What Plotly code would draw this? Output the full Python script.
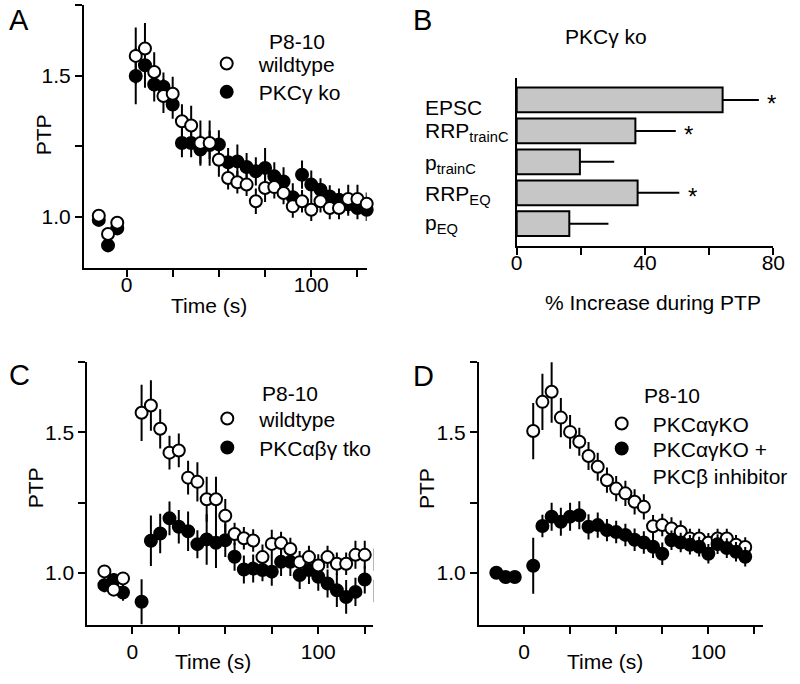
import plotly.graph_objects as go

W, H = 800, 684
FONT = "Liberation Sans, Arial, sans-serif"

# ---------------- data ----------------
# Panel A / C shared wildtype (open circles)
time_wt = [-15, -10, -5, 5, 10, 15, 20, 25, 30, 35, 40, 45, 50, 55, 60, 65, 70, 75,
           80, 85, 90, 95, 100, 105, 110, 115, 120, 125, 130]
ptp_wt = [1.005, 0.94, 0.98, 1.57, 1.596, 1.513, 1.428, 1.436, 1.339, 1.324, 1.262,
          1.262, 1.203, 1.138, 1.123, 1.115, 1.056, 1.103, 1.106, 1.085, 1.038, 1.056,
          1.026, 1.056, 1.032, 1.032, 1.064, 1.064, 1.047]
err_wt = [0.012, 0.012, 0.012, 0.10, 0.09, 0.07, 0.06, 0.06, 0.06, 0.07, 0.08, 0.08,
          0.06, 0.04, 0.04, 0.04, 0.045, 0.05, 0.04, 0.04, 0.04, 0.04, 0.04, 0.04,
          0.04, 0.04, 0.05, 0.05, 0.04]

# Panel A: PKCgamma ko (filled)
time_ko = time_wt
ptp_ko = [0.99, 0.90, 0.96, 1.499, 1.537, 1.469, 1.461, 1.398, 1.262, 1.262, 1.239,
          1.255, 1.257, 1.194, 1.197, 1.177, 1.162, 1.174, 1.144, 1.126, 1.07, 1.150,
          1.115, 1.097, 1.073, 1.061, 1.045, 1.032, 1.026]
err_ko = [0.012, 0.012, 0.012, 0.10, 0.08, 0.06, 0.05, 0.05, 0.05, 0.05, 0.05, 0.05,
          0.05, 0.05, 0.06, 0.05, 0.05, 0.07, 0.05, 0.05, 0.05, 0.05, 0.05, 0.04,
          0.04, 0.04, 0.04, 0.04, 0.04]

# Panel C: PKCalphabetagamma tko (filled)
time_tko = time_wt
ptp_tko = [0.956, 0.974, 0.93, 0.897, 1.114, 1.140, 1.194, 1.164, 1.148, 1.102, 1.119,
           1.107, 1.116, 1.057, 1.012, 1.015, 1.01, 1.004, 1.039, 1.039, 0.992, 1.01,
           0.986, 0.962, 0.938, 0.914, 0.932, 0.976, 0.935]
err_tko = [0.025, 0.025, 0.03, 0.08, 0.09, 0.07, 0.06, 0.06, 0.07, 0.05, 0.09, 0.09,
           0.06, 0.05, 0.05, 0.05, 0.04, 0.05, 0.05, 0.05, 0.05, 0.05, 0.05, 0.05,
           0.06, 0.06, 0.05, 0.05, 0.04]

# Panel D: PKCalphagamma KO (open)
time_ag = [5, 10, 15, 20, 25, 30, 35, 40, 45, 50, 55, 60, 65, 70, 75, 80, 85, 90, 95,
           100, 105, 110, 115, 120]
ptp_ag = [1.505, 1.609, 1.645, 1.553, 1.502, 1.467, 1.416, 1.378, 1.330, 1.300, 1.283,
          1.253, 1.235, 1.166, 1.170, 1.158, 1.146, 1.122, 1.122, 1.107, 1.122, 1.122,
          1.10, 1.092]
err_ag = [0.10, 0.10, 0.11, 0.07, 0.06, 0.05, 0.05, 0.05, 0.045, 0.045, 0.045, 0.045,
          0.045, 0.04, 0.04, 0.04, 0.04, 0.035, 0.035, 0.035, 0.035, 0.035, 0.035, 0.035]

# Panel D: PKCalphagamma KO + PKCbeta inhibitor (filled)
time_agi = [-15, -10, -5, 5, 10, 15, 20, 25, 30, 35, 40, 45, 50, 55, 60, 65, 70, 75, 80,
            85, 90, 95, 100, 105, 110, 115, 120]
ptp_agi = [1.0, 0.985, 0.985, 1.025, 1.167, 1.2, 1.182, 1.2, 1.205, 1.164, 1.17, 1.152,
           1.145, 1.135, 1.118, 1.108, 1.093, 1.068, 1.116, 1.108, 1.1, 1.093, 1.068,
           1.102, 1.088, 1.075, 1.057]
err_agi = [0.015, 0.015, 0.015, 0.10, 0.04, 0.05, 0.05, 0.05, 0.05, 0.045, 0.045, 0.04,
           0.04, 0.04, 0.04, 0.04, 0.04, 0.04, 0.035, 0.035, 0.035, 0.035, 0.035, 0.035,
           0.035, 0.035, 0.035]

# Panel B: % increase during PTP (PKCgamma ko)
b_labels = ["EPSC", "RRP<sub>trainC</sub>", "p<sub>trainC</sub>", "RRP<sub>EQ</sub>", "p<sub>EQ</sub>"]
b_values = [64.2, 37.0, 19.7, 37.7, 16.4]
b_errors = [11.3, 12.6, 10.7, 13.0, 12.2]
b_signif = [True, True, False, True, False]

x_tickvals = [0, 25, 50, 75, 100, 125]
x_ticktext = ["0", " ", " ", " ", "100", " "]
y_tickvals = [1.0, 1.25, 1.5, 1.75]
y_ticktext = ["1.0", " ", "1.5", " "]


def px(x):
    return x / W


def py(y):
    return 1 - y / H


fig = go.Figure()

OPEN = dict(size=12, color="white", line=dict(color="black", width=2))
FILLED = dict(size=12, color="black", line=dict(color="black", width=2))


def series(x, y, err, xa, ya, marker):
    fig.add_trace(go.Scatter(
        x=x, y=y, mode="markers", xaxis=xa, yaxis=ya, cliponaxis=False,
        showlegend=False, marker=marker, hoverinfo="skip",
        error_y=dict(type="data", array=err, visible=True, thickness=2, width=0,
                     color="black")))


def legend_entry(name, xa, ya, marker, legend):
    fig.add_trace(go.Scatter(x=[None], y=[None], mode="markers", xaxis=xa, yaxis=ya,
                             marker=marker, name=name, legend=legend, showlegend=True))


# Panel A (open on top)
series(time_ko, ptp_ko, err_ko, "x", "y", FILLED)
series(time_wt, ptp_wt, err_wt, "x", "y", OPEN)
legend_entry("wildtype", "x", "y", OPEN, "legend")
legend_entry("PKCγ ko", "x", "y", FILLED, "legend2")

# Panel B
fig.add_trace(go.Bar(
    x=b_values, y=b_labels, orientation="h", xaxis="x2", yaxis="y2", width=0.8,
    marker=dict(color="#c6c6c6", line=dict(color="black", width=2)),
    showlegend=False, hoverinfo="skip",
    error_x=dict(type="data", array=b_errors, arrayminus=[0] * len(b_errors),
                 symmetric=False, visible=True, thickness=2, width=0, color="black")))

# Panel C (open on top)
series(time_tko, ptp_tko, err_tko, "x3", "y3", FILLED)
series(time_wt, ptp_wt, err_wt, "x3", "y3", OPEN)
legend_entry("wildtype", "x3", "y3", OPEN, "legend3")
legend_entry("PKCαβγ tko", "x3", "y3", FILLED, "legend4")

# Panel D (filled on top)
series(time_ag, ptp_ag, err_ag, "x4", "y4", OPEN)
series(time_agi, ptp_agi, err_agi, "x4", "y4", FILLED)
legend_entry("PKCαγKO", "x4", "y4", OPEN, "legend5")
legend_entry("PKCαγKO +<br>PKCβ inhibitor", "x4", "y4", FILLED, "legend6")

AX = dict(showline=True, linecolor="black", linewidth=2, ticks="outside", ticklen=7,
          tickwidth=2, tickcolor="black", showgrid=False, zeroline=False,
          automargin=False,
          tickfont=dict(size=21, color="black", family=FONT), fixedrange=True)

def xax(dom, rng, anchor, standoff=0):
    return dict(AX, domain=dom, range=rng, anchor=anchor, tickmode="array",
                tickvals=x_tickvals, ticktext=x_ticktext, ticklabelstandoff=standoff)

def yax(dom, rng, anchor):
    return dict(AX, domain=dom, range=rng, anchor=anchor, tickmode="array",
                tickvals=y_tickvals, ticktext=y_ticktext)

dA_x = [px(84), px(366.7)]
dA_y = [py(268), py(5)]
dB_x = [px(516.7), px(773.3)]
dB_y = [py(246), py(77.7)]
dC_x = [px(87.3), px(373.3)]
dC_y = [py(625), py(362.3)]
dD_x = [px(479), px(763.3)]
dD_y = [py(625), py(362.3)]

LEG = dict(font=dict(size=21, family=FONT, color="black"), bgcolor="rgba(0,0,0,0)",
           itemwidth=54, xanchor="left", yanchor="top", tracegroupgap=0,
           itemclick=False, itemdoubleclick=False, valign="top")
OFF = 20  # legend top -> first symbol centre (px)

fig.update_layout(
    width=W, height=H, margin=dict(l=0, r=0, t=0, b=0, autoexpand=False),
    paper_bgcolor="white", plot_bgcolor="white",
    font=dict(family=FONT, size=21, color="black"),
    showlegend=True,
    xaxis=xax(dA_x, [-23, 130], "y", standoff=-10),
    yaxis=yax(dA_y, [0.82, 1.75], "x"),
    xaxis2=dict(AX, domain=dB_x, range=[0, 80], anchor="y2", tickmode="array",
                tickvals=[0, 20, 40, 60, 80], ticktext=["0", " ", "40", " ", "80"],
                ticklabelstandoff=-10),
    yaxis2=dict(AX, domain=dB_y, range=[4.72, -0.72], anchor="x2", ticks="",
                showticklabels=False, type="category"),
    xaxis3=xax(dC_x, [-24.2, 129.6], "y3"),
    yaxis3=yax(dC_y, [0.814, 1.75], "x3"),
    xaxis4=xax(dD_x, [-24.4, 129.8], "y4"),
    yaxis4=yax(dD_y, [0.814, 1.75], "x4"),
    legend=dict(LEG, x=px(194.7), y=py(63.3 - OFF)),
    legend2=dict(LEG, x=px(194.7), y=py(91.7 - OFF)),
    legend3=dict(LEG, x=px(195.3), y=py(418.3 - OFF)),
    legend4=dict(LEG, x=px(195.3), y=py(447.3 - OFF)),
    legend5=dict(LEG, itemwidth=52, x=px(590.7), y=py(423.3 - OFF)),
    legend6=dict(LEG, itemwidth=52, x=px(590.7), y=py(448.3 - OFF)),
)


def ann(text, x, y, size=21, xanchor="center", yanchor="middle", **kw):
    return dict(text=text, x=px(x), y=py(y), xref="paper", yref="paper",
                showarrow=False, xanchor=xanchor, yanchor=yanchor,
                font=dict(size=size, family=FONT, color="black"), **kw)


annotations = [
    # panel letters
    ann("A", 19, 20, size=29), ann("B", 422.5, 20, size=29),
    ann("C", 19, 375, size=29), ann("D", 423, 376, size=29),
    # axis titles
    ann("PTP", 43.3, 135, textangle=-90), ann("PTP", 35, 488.3, textangle=-90),
    ann("PTP", 426.7, 488.3, textangle=-90),
    ann("Time (s)", 209, 305), ann("Time (s)", 213.3, 661.7), ann("Time (s)", 605, 661.7),
    ann("% Increase during PTP", 653, 303),
    ann("PKCγ ko", 605.8, 36.7),
    # legend headers
    ann("P8-10", 296.7, 41.7), ann("P8-10", 289.5, 393.3), ann("P8-10", 672.2, 395),
]

# Panel B category labels (left aligned)
b_label_y = [107.5, 132, 164, 195, 224]
for lab, yy in zip(b_labels, b_label_y):
    annotations.append(ann(lab, 422.7, yy, xanchor="left"))

# significance stars
for lab, v, e, s in zip(b_labels, b_values, b_errors, b_signif):
    if s:
        annotations.append(dict(text="*", x=v + e + 4, y=lab, xref="x2", yref="y2",
                                showarrow=False, xanchor="center", yanchor="middle",
                                yshift=-4, font=dict(size=24, family=FONT, color="black")))

fig.update_layout(annotations=annotations)

fig.write_html("out.html", config={"displayModeBar": False, "staticPlot": True},
               post_script="document.body.style.margin='0';"
                           "document.body.style.overflow='hidden';")
